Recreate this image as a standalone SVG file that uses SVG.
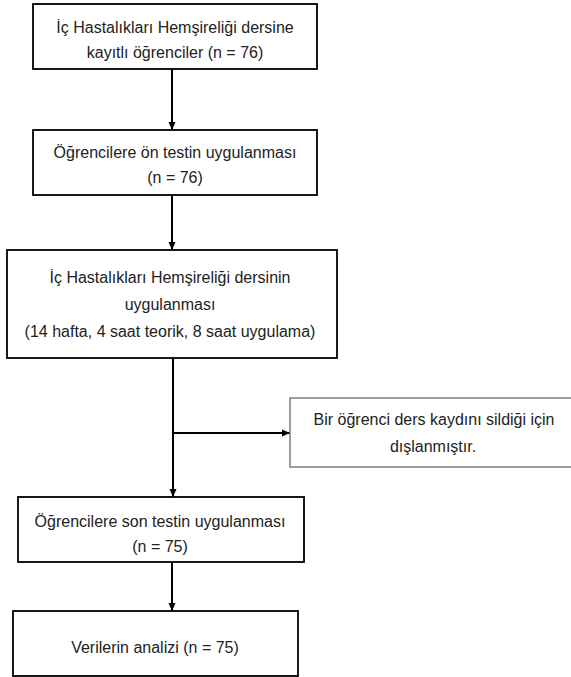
<svg xmlns="http://www.w3.org/2000/svg" width="571" height="677" viewBox="0 0 571 677">
<defs>
<marker id="ah" markerWidth="8" markerHeight="9" refX="8" refY="4" orient="auto" markerUnits="userSpaceOnUse">
<path d="M0,0.5 L8,4 L0,7.5 Z" fill="#000"/>
</marker>
<style>
.box{fill:#fff;stroke:#000;stroke-width:1.8}
.side{fill:#fff;stroke:#7f7f7f;stroke-width:1.5}
.t{font-family:"Liberation Sans",Arial,sans-serif;font-size:16px;fill:#222;text-anchor:middle}
.c{fill:none;stroke:#000;stroke-width:2}
</style>
</defs>
<rect width="571" height="677" fill="#fff"/>
<g id="connectors">
<line class="c" x1="172" y1="69" x2="172" y2="130" marker-end="url(#ah)"/>
<line class="c" x1="172" y1="195" x2="172" y2="250" marker-end="url(#ah)"/>
<line class="c" x1="173" y1="358" x2="173" y2="497" marker-end="url(#ah)"/>
<line class="c" x1="173" y1="433" x2="290" y2="433" marker-end="url(#ah)"/>
<line class="c" x1="172" y1="562" x2="172" y2="611" marker-end="url(#ah)"/>
</g>
<g id="n1">
<rect class="box" x="33" y="4" width="284" height="65"/>
<text class="t" x="175" y="33">İç Hastalıkları Hemşireliği dersine</text>
<text class="t" x="175" y="58">kayıtlı öğrenciler (n = 76)</text>
</g>
<g id="n2">
<rect class="box" x="33" y="130" width="284" height="65"/>
<text class="t" x="175" y="158">Öğrencilere ön testin uygulanması</text>
<text class="t" x="175" y="183">(n = 76)</text>
</g>
<g id="n3">
<rect class="box" x="7" y="250" width="330" height="108"/>
<text class="t" x="170" y="283">İç Hastalıkları Hemşireliği dersinin</text>
<text class="t" x="170" y="310">uygulanması</text>
<text class="t" x="170" y="337">(14 hafta, 4 saat teorik, 8 saat uygulama)</text>
</g>
<g id="n4">
<rect class="side" x="290" y="398" width="290" height="69"/>
<text class="t" x="434" y="425">Bir öğrenci ders kaydını sildiği için</text>
<text class="t" x="433" y="452">dışlanmıştır.</text>
</g>
<g id="n5">
<rect class="box" x="18" y="497" width="286" height="65"/>
<text class="t" x="160" y="527">Öğrencilere son testin uygulanması</text>
<text class="t" x="160" y="552">(n = 75)</text>
</g>
<g id="n6">
<rect class="box" x="13" y="611" width="285" height="65"/>
<text class="t" x="155" y="653">Verilerin analizi (n = 75)</text>
</g>
</svg>
